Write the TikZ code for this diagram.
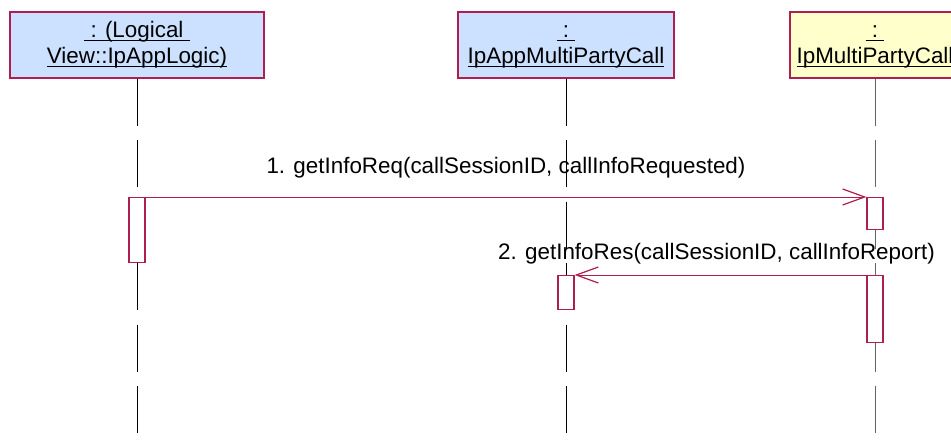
\documentclass[tikz,border=0pt]{standalone}
\usepackage{fontspec}
\setmainfont{Liberation Sans}
\usetikzlibrary{arrows.meta}
\definecolor{bord}{RGB}{175,30,80}
\definecolor{hblue}{RGB}{204,224,255}
\definecolor{hyel}{RGB}{255,255,204}
\definecolor{lgray}{RGB}{100,100,100}
\newcommand\ulx[1]{\setbox0\hbox{#1}\rlap{\rule[-3.6pt]{\wd0}{1.3pt}}\box0}
\begin{document}
\begin{tikzpicture}[x=1pt,y=-1pt,
  txt/.style={font=\fontsize{22.4}{26}\selectfont},
  hdr/.style={draw=bord, line width=1.2pt, minimum width=#1, minimum height=66pt,
    inner sep=0pt, align=center, txt},
  life/.style={line width=1pt, dash pattern=on 47pt off 14.5pt},
  act/.style={draw=bord, fill=white, line width=1.2pt, minimum width=16pt,
    inner sep=0pt, anchor=north},
  msg/.style={draw=bord, line width=1pt,
    -{Straight Barb[length=22pt,width=16pt,line width=1.2pt]}},
  lbl/.style={txt, anchor=base, inner sep=0pt}]
\useasboundingbox (0,0) rectangle (951,445);
% headers
\node[hdr=254pt, fill=hblue] (h1) at (137,45)
  {\strut\ulx{\ : (Logical\ }\\\strut\ulx{View::IpAppLogic)}};
\node[hdr=216pt, fill=hblue] (h2) at (566,45)
  {\strut\ulx{\ :\ }\\\strut\ulx{IpAppMultiPartyCall}};
\node[hdr=170pt, fill=hyel] (h3) at (875,45)
  {\strut\ulx{\ :\ }\\\strut\ulx{IpMultiPartyCall}};
% lifeline ends
\coordinate (e1) at (137,433);
\coordinate (e2) at (566,433);
\coordinate (e3) at (875,433);
\draw[life] (h1.south) -- (e1);
\draw[life] (h2.south) -- (e2);
\draw[life, draw=lgray] (h3.south) -- (e3);
% activations
\node[act, minimum height=65pt] (a1) at (137,197) {};
\node[act, minimum height=32pt] (a3a) at (875,197) {};
\node[act, minimum height=34pt] (a2) at (566,275) {};
\node[act, minimum height=67pt] (a3b) at (875,275) {};
% messages
\draw[msg] (a1.north east) -- node[lbl, midway, yshift=24pt]
  {1. getInfoReq(callSessionID, callInfoRequested)} (a3a.north west);
\draw[msg] (a3b.north west) -- node[lbl, midway, yshift=16pt, xshift=-4pt]
  {2. getInfoRes(callSessionID, callInfoReport)} (a2.north east);
\end{tikzpicture}
\end{document}
